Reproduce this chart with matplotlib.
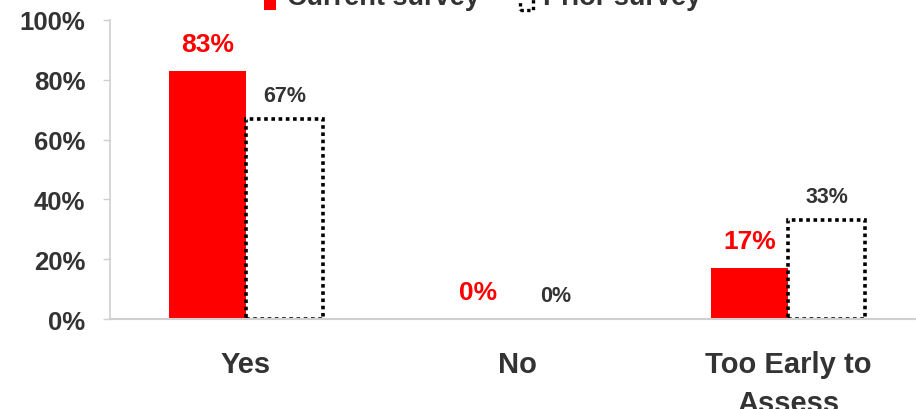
import matplotlib
matplotlib.use('Agg')
import matplotlib.pyplot as plt
import numpy as np
from matplotlib.patches import Patch, Rectangle
from matplotlib.legend_handler import HandlerPatch

# Data
categories = ['Yes', 'No', 'Too Early to\nAssess']
current = [83, 0, 17]
prior = [67, 0, 33]
series_names = ['Current survey', 'Prior survey']

plt.rcParams['font.family'] = ['Liberation Sans', 'DejaVu Sans']
plt.rcParams['font.weight'] = 'bold'

text_color = '#333333'
axis_color = '#d0d0d0'

fig = plt.figure(figsize=(9.16, 4.10), dpi=100)
ax = fig.add_axes([0.1206, 0.2195, 0.8876, 0.7293])

x = np.arange(len(categories))
w = 0.285

ax.bar(x - w / 2, current, width=w, color='#ff0000', edgecolor='none')
prior_bars = ax.bar(x + w / 2, prior, width=w, color='white', edgecolor='black',
                    linestyle=(0, (1, 1)), linewidth=2.6)
# empty bars show no outline
for b, v in zip(prior_bars, prior):
    if v == 0:
        b.set_edgecolor('none')

# Value labels
for i, v in enumerate(current):
    ax.annotate(f'{v}%', (x[i] - w / 2, v), xytext=(0, 14.5), textcoords='offset points',
                ha='center', va='baseline', color='#ff0000', fontsize=19, fontweight='bold')
for i, v in enumerate(prior):
    ax.annotate(f'{v}%', (x[i] + w / 2, v), xytext=(0, 13), textcoords='offset points',
                ha='center', va='baseline', color=text_color, fontsize=15.5, fontweight='bold')

ax.set_xlim(-0.5, 2.5)
ax.set_ylim(0, 100)
ax.set_yticks(range(0, 101, 20))
ax.set_yticklabels([f'{t}%' for t in range(0, 101, 20)])
ax.set_xticks(x)
ax.set_xticklabels(categories, fontsize=21, fontweight='bold', color=text_color,
                   linespacing=1.5)

ax.tick_params(axis='x', length=0, pad=22)
ax.tick_params(axis='y', length=5, width=1, color=axis_color, pad=13,
               labelsize=18.5, labelcolor=text_color)
for lbl in ax.get_yticklabels():
    lbl.set_fontweight('bold')

for s in ['top', 'right']:
    ax.spines[s].set_visible(False)
ax.spines['left'].set_color(axis_color)
ax.spines['bottom'].set_color(axis_color)
ax.spines['left'].set_linewidth(1.2)
ax.spines['bottom'].set_linewidth(1.5)


# legend squares sit a bit below the text, like in the original
def low_square(legend, orig_handle, xdescent, ydescent, width, height, fontsize):
    return Rectangle((-xdescent, -ydescent - 0.3 * fontsize), width, height)


handles = [Patch(facecolor='#ff0000', edgecolor='none'),
           Patch(facecolor='white', edgecolor='black', linestyle=(0, (1, 1)), linewidth=2.4)]
leg = fig.legend(handles, series_names, loc='center', bbox_to_anchor=(0.527, 1.004),
                 ncol=2, frameon=False, fontsize=19.5, handlelength=0.45, handleheight=0.45,
                 handletextpad=0.4, columnspacing=1.5,
                 handler_map={Patch: HandlerPatch(patch_func=low_square)})
for t in leg.get_texts():
    t.set_color(text_color)
    t.set_fontweight('bold')

fig.savefig('out.png', dpi=100)
